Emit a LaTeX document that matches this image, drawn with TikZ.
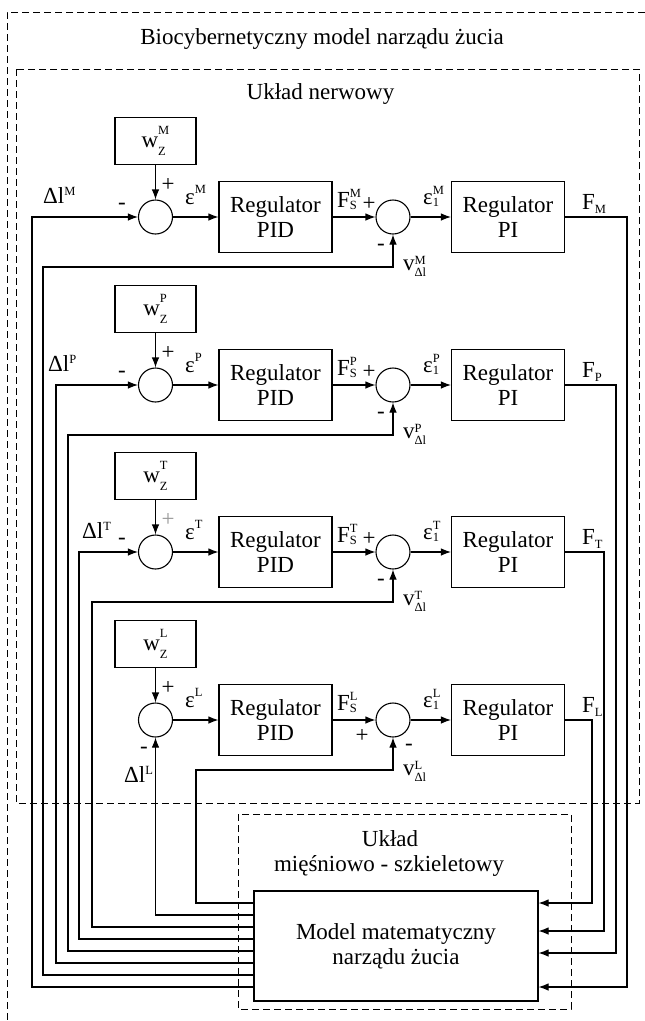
\documentclass[tikz,border=0pt]{standalone}
\usepackage{fontspec}
\setmainfont{Liberation Serif}
\usetikzlibrary{arrows.meta}

\newcommand{\indeks}[1]{{\fontsize{12.5}{12.5}\selectfont #1}}
% base, superscript, subscript, raise of sup, raise of sub
\newcommand{\sygn}[5]{#1\ooalign{\raisebox{#4}{\indeks{#2}}\cr\raisebox{#5}{\indeks{#3}}\cr}}

\tikzset{
  blok/.style={draw,line width=1.1pt,minimum width=113pt,minimum height=71pt,align=center,inner sep=0pt},
  zad/.style={draw,line width=1.1pt,minimum width=81pt,minimum height=47pt,inner sep=0pt},
  suma/.style={draw,circle,line width=1.1pt,minimum size=34pt,inner sep=0pt},
  lab/.style={inner sep=0pt,anchor=base west},
  znak/.style={inner sep=0pt},
  ramka/.style={line width=0.8pt,dash pattern=on 7pt off 4pt},
  pol/.style={line width=1.1pt},
}

\begin{document}
\begin{tikzpicture}[x=1pt,y=-1pt,>={Latex[length=10pt,width=7.5pt]},font=\fontsize{23}{25}\selectfont]
  \useasboundingbox (0,0) rectangle (645,1021);
  % ramki
  \draw[ramka] (645,12) -- (7,12) -- (7,1021);
  \draw[ramka] (16,69) rectangle (639,803);
  \draw[ramka] (238,814) rectangle (571,1009);
  \node[anchor=base] (tytul) at (322,44) {Biocybernetyczny model narządu żucia};
  \node[anchor=base] (nerw) at (320.5,99) {Układ nerwowy};
  \node[anchor=base] (uklad) at (390,846) {Układ};
  \node[anchor=base] (miesn) at (389,871) {mięśniowo - szkieletowy};
  \node[draw,line width=1.1pt,minimum width=284pt,minimum height=110pt,align=center,inner sep=0pt] (model) at (396,946) {Model matematyczny\\narządu żucia};

  % tory regulacji
  \foreach \r/\y/\xf/\of/\pc in {M/217/627/-41/black, P/385/616/-7/black, T/552/604/15/black!40, L/720/592/43/black}
  {
    \node[zad] (w\r) at (155.5,\y-76) {\sygn{w}{\r}{Z}{13pt}{-8pt}};
    \node[suma] (e\r) at (155.5,\y) {};
    \node[blok] (pid\r) at (275.5,\y) {Regulator\\PID};
    \node[suma] (ei\r) at (393,\y) {};
    \node[blok] (pi\r) at (508,\y) {Regulator\\PI};
    \draw[pol,->] (w\r) -- (e\r);
    \draw[pol,->] (e\r) -- (pid\r);
    \draw[pol,->] (pid\r) -- (ei\r);
    \draw[pol,->] (ei\r) -- (pi\r);
    \draw[pol,<-] ([yshift=\of]model.east) -| (\xf,\y) -- (pi\r.east);
    \node[znak,text=\pc] (plus\r) at (168,\y-32) {+};
    \node[lab] (eps\r) at (185,\y-13) {\sygn{ε}{\r}{}{11pt}{0pt}};
    \node[lab] (fs\r) at (337,\y-10) {\sygn{F}{\r}{S}{10pt}{-2pt}};
    \node[lab] (epsi\r) at (423,\y-13) {\sygn{ε}{\r}{1}{10pt}{-2pt}};
    \node[lab] (f\r) at (582,\y-8) {\sygn{F}{}{\r}{0pt}{-4pt}};
  }
  \foreach \r/\y/\xd/\od/\xv/\ov/\xl in {M/217/32/-41/43/-29/43, P/385/56/-17/68/-5/48, T/552/79/7/92/19/82}
  {
    \draw[pol,->] ([yshift=\od]model.west) -| (\xd,\y) -- (e\r.west);
    \draw[pol,->] ([yshift=\ov]model.west) -| (\xv,\y+50) -| (ei\r.south);
    \node[znak] (minus\r) at (122,\y-11) {-};
    \node[lab] (dl\r) at (\xl,\y-14) {\sygn{Δl}{\r}{}{8pt}{0pt}};
    \node[znak] (plusi\r) at (369,\y-13) {+};
    \node[znak] (minusi\r) at (381,\y+30) {-};
    \node[lab] (v\r) at (403,\y+53) {\sygn{v}{\r}{Δl}{6pt}{-6pt}};
  }
  % tor L
  \draw[pol,->] ([yshift=31]model.west) -| (eL.south);
  \draw[pol,->] ([yshift=43]model.west) -| (196,770) -| (eiL.south);
  \node[znak] (minusL) at (144,750) {-};
  \node[lab] (dlL) at (124,782) {\sygn{Δl}{L}{}{8pt}{0pt}};
  \node[znak] (plusiL) at (362,736) {+};
  \node[znak] (minusiL) at (409,747) {-};
  \node[lab] (vL) at (403,775) {\sygn{v}{L}{Δl}{6pt}{-6pt}};
\end{tikzpicture}
\end{document}
